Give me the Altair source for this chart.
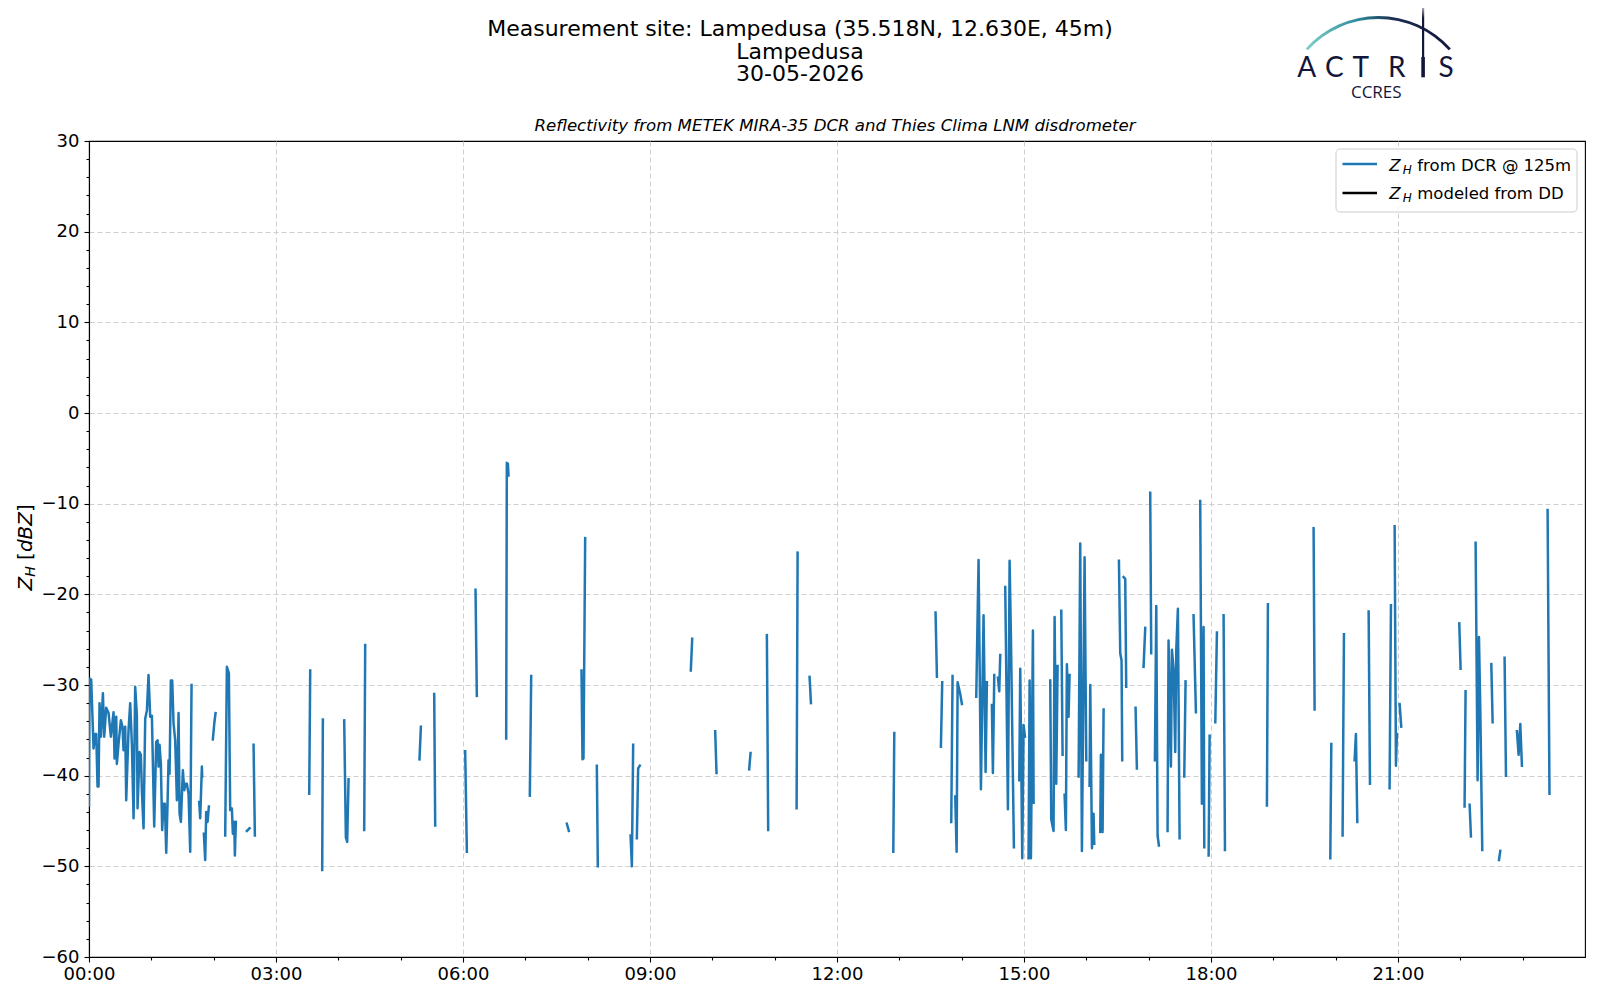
import altair as alt
import pandas as pd

# ---------------- data (time in decimal hours, reflectivity in dBZ) ----------------
night = [
    [(0.000, -43.3), (0.009, -29.3), (0.035, -29.4), (0.073, -37.0), (0.100, -35.4), (0.116, -35.4),
     (0.137, -41.2), (0.153, -41.2), (0.169, -32.0), (0.191, -35.7), (0.223, -30.9), (0.244, -35.7),
     (0.276, -32.5), (0.314, -33.1), (0.351, -35.7), (0.394, -33.0), (0.410, -38.1), (0.437, -33.5),
     (0.447, -38.7), (0.474, -36.5), (0.511, -33.9), (0.538, -34.6), (0.554, -37.2), (0.581, -34.6),
     (0.597, -42.7), (0.634, -35.0), (0.661, -32.0), (0.688, -36.5), (0.715, -44.7), (0.741, -30.2),
     (0.768, -33.3), (0.779, -43.6), (0.811, -37.4), (0.832, -37.7), (0.848, -41.6), (0.875, -45.8),
     (0.902, -33.7), (0.929, -32.8), (0.955, -28.9), (0.982, -33.5), (1.009, -33.4), (1.046, -45.6),
     (1.078, -36.3), (1.100, -36.1), (1.116, -39.0), (1.132, -36.6), (1.153, -38.7), (1.174, -46.0),
     (1.196, -43.1), (1.217, -43.1), (1.239, -48.5), (1.260, -43.1), (1.276, -38.3), (1.292, -39.8),
     (1.313, -29.5), (1.335, -29.5), (1.356, -34.2), (1.383, -36.1), (1.410, -42.7), (1.437, -33.1),
     (1.453, -44.2), (1.474, -45.1), (1.506, -39.4), (1.528, -41.6), (1.549, -40.9), (1.570, -40.9),
     (1.597, -42.0), (1.624, -48.4), (1.645, -30.0)],
    [(1.768, -42.9), (1.784, -44.7), (1.811, -39.0), (1.816, -40.1)],
    [(1.843, -46.4), (1.864, -49.3), (1.880, -44.0), (1.902, -45.1), (1.923, -43.4)],
    [(1.987, -36.0), (2.009, -34.3), (2.030, -33.1)],
    [(2.185, -46.6), (2.212, -28.0), (2.244, -28.7), (2.265, -43.8), (2.292, -43.6), (2.308, -46.4),
     (2.330, -45.1), (2.340, -48.8), (2.356, -45.1)],
    [(2.533, -46.1), (2.576, -45.8)],
    [(2.640, -36.6), (2.661, -46.6)],
    [(3.533, -42.0), (3.549, -28.4)],
    [(3.741, -50.4), (3.752, -33.8)],
    [(4.094, -33.9), (4.121, -46.8), (4.142, -47.3), (4.164, -40.4)],
    [(4.415, -46.0), (4.431, -25.6)],
    [(5.302, -38.2), (5.324, -34.6)],
    [(5.538, -31.0), (5.554, -45.5)],
]

morning = [
    [(6.035, -37.3), (6.062, -48.4)],
    [(6.201, -19.5), (6.222, -31.2)],
    [(6.693, -35.9), (6.703, -5.5), (6.720, -5.6), (6.730, -6.9)],
    [(7.072, -42.2), (7.094, -29.0)],
    [(7.666, -45.3), (7.698, -46.1)],
    [(7.901, -28.4), (7.917, -38.2), (7.933, -38.1), (7.960, -13.8)],
    [(8.147, -38.9), (8.163, -50.0)],
    [(8.688, -46.6), (8.709, -50.0), (8.730, -36.6)],
    [(8.789, -46.9), (8.810, -39.2), (8.837, -38.9)],
    [(9.655, -28.4), (9.677, -24.9)],
    [(10.046, -35.1), (10.067, -39.7)],
    [(10.591, -39.3), (10.613, -37.5)],
    [(10.875, -24.5), (10.896, -46.0)],
    [(11.352, -43.6), (11.368, -15.4)],
    [(11.560, -29.1), (11.582, -32.0)],
]

afternoon = [
    [(12.903, -48.4), (12.919, -35.3)],
    [(13.581, -22.0), (13.603, -29.1)],
    [(13.667, -36.8), (13.688, -29.7)],
    [(13.833, -45.1), (13.854, -29.0)],
    [(13.897, -42.3), (13.919, -48.4), (13.935, -29.7), (13.977, -31.0), (14.004, -32.1)],
    [(14.234, -31.3), (14.271, -16.2), (14.309, -41.5), (14.351, -22.3), (14.384, -39.6), (14.405, -29.7)],
    [(14.485, -32.2), (14.501, -39.7), (14.523, -28.9)],
    [(14.582, -29.2), (14.603, -30.7), (14.619, -26.7)],
    [(14.699, -19.2), (14.742, -43.7), (14.769, -16.3), (14.790, -24.5), (14.838, -47.9)],
    [(14.924, -40.5), (14.940, -28.2), (14.972, -49.1), (14.993, -34.4), (15.015, -35.7)],
    [(15.073, -49.1), (15.090, -29.5), (15.111, -49.1), (15.143, -24.0), (15.154, -43.0)],
    [(15.421, -29.5), (15.437, -44.8), (15.474, -46.1), (15.491, -22.5), (15.517, -40.9), (15.539, -27.9)],
    [(15.598, -21.8), (15.619, -37.7)],
    [(15.651, -42.1), (15.672, -46.0), (15.688, -27.7), (15.715, -33.5), (15.731, -28.9)],
    [(15.876, -40.1), (15.902, -14.4), (15.929, -48.3), (15.972, -15.9), (15.999, -38.3)],
    [(16.052, -41.1), (16.063, -30.0), (16.090, -48.0), (16.116, -44.2), (16.127, -47.5)],
    [(16.223, -46.2), (16.234, -37.7), (16.261, -46.2), (16.277, -32.7)],
    [(16.523, -16.3), (16.544, -26.5), (16.565, -27.3), (16.576, -38.3)],
    [(16.598, -18.1), (16.624, -18.3), (16.640, -30.2)],
    [(16.790, -32.5), (16.811, -39.2)],
    [(16.918, -28.0), (16.945, -23.7)],
    [(17.025, -8.8), (17.041, -26.5)],
    [(17.100, -38.3), (17.122, -21.3), (17.143, -46.6), (17.164, -47.7)],
    [(17.303, -46.1), (17.319, -25.1), (17.357, -39.0), (17.373, -26.1), (17.400, -28.3), (17.426, -37.4),
     (17.443, -26.1), (17.469, -21.6), (17.496, -46.9)],
    [(17.571, -40.1), (17.592, -29.6)],
    [(17.720, -22.3), (17.758, -33.0)],
    [(17.827, -9.7), (17.854, -43.1), (17.870, -29.8), (17.881, -23.6), (17.892, -47.9)],
    [(17.962, -48.8), (17.978, -35.6)],
]

evening = [
    [(18.069, -34.1), (18.095, -24.2)],
    [(18.202, -22.3), (18.224, -48.2)],
    [(18.897, -43.3), (18.913, -21.1)],
    [(19.646, -12.7), (19.662, -32.7)],
    [(19.914, -49.1), (19.930, -36.5)],
    [(20.111, -46.6), (20.133, -24.4)],
    [(20.304, -38.3), (20.325, -35.4), (20.347, -45.1)],
    [(20.529, -21.9), (20.550, -40.9)],
    [(20.865, -41.4), (20.887, -21.2)],
    [(20.946, -12.5), (20.967, -38.9), (20.983, -35.4)],
    [(21.026, -32.1), (21.052, -34.6)],
    [(21.983, -23.2), (22.004, -28.2)],
    [(22.068, -43.4), (22.084, -30.7)],
    [(22.149, -43.2), (22.170, -46.7)],
    [(22.245, -14.3), (22.277, -40.5), (22.299, -24.7), (22.320, -32.6), (22.352, -48.2)],
    [(22.497, -27.7), (22.518, -34.1)],
    [(22.620, -49.3), (22.641, -48.3)],
    [(22.710, -27.0), (22.732, -40.0)],
    [(22.908, -35.1), (22.935, -37.7), (22.962, -34.3), (22.988, -38.9)],
    [(23.400, -10.7), (23.430, -42.0)],
]

title_lines = ["Measurement site: Lampedusa (35.518N, 12.630E, 45m)", "Lampedusa", "30-05-2026"]
subtitle = "Reflectivity from METEK MIRA-35 DCR and Thies Clima LNM disdrometer"
legend_labels = ["from DCR @ 125m", "modeled from DD"]
legend_colors = ["#1f77b4", "black"]

# ---------------- build table ----------------
rows = []
sid = 0
for period in (night, morning, afternoon, evening):
    for seg in period:
        for i, (t, v) in enumerate(seg):
            rows.append({"t": t, "v": v, "seg": sid, "i": i})
        sid += 1
df = pd.DataFrame(rows)

W, H = 1496, 816
FONT = "DejaVu Sans"
NAVY = "#13163b"
TICK_FS = 18
one = pd.DataFrame({"a": [0]})

x_axis = alt.Axis(
    values=list(range(0, 24)), title="",
    labelExpr="datum.value % 3 === 0 ? (datum.value < 10 ? '0' : '') + datum.value + ':00' : ''",
    labelFont=FONT, labelFontSize=TICK_FS, labelColor="black", labelPadding=3,
    labelFlush=False, labelOverlap=False,
    tickColor="black", tickWidth=1.1,
    tickSize={"condition": {"test": "datum.value % 3 === 0", "value": 5}, "value": 3},
    domainColor="black", domainWidth=1.1,
    grid=True, gridColor="#cfcfcf", gridDash=[5, 3], gridWidth=1,
    gridOpacity={"condition": {"test": "datum.value % 3 === 0 && datum.value > 0", "value": 1}, "value": 0},
)
y_axis = alt.Axis(
    values=list(range(-60, 31, 2)), title="",
    labelExpr="datum.value % 10 === 0 ? (datum.value < 0 ? '\u2212' + abs(datum.value) : '' + datum.value) : ''",
    labelFont=FONT, labelFontSize=TICK_FS, labelColor="black", labelPadding=5,
    labelFlush=False, labelOverlap=False,
    tickColor="black", tickWidth=1.1,
    tickSize={"condition": {"test": "datum.value % 10 === 0", "value": 5}, "value": 3},
    domainColor="black", domainWidth=1.1,
    grid=True, gridColor="#cfcfcf", gridDash=[5, 3], gridWidth=1,
    gridOpacity={"condition": {"test": "datum.value % 10 === 0 && datum.value > -60 && datum.value < 30",
                               "value": 1}, "value": 0},
)

line = alt.Chart(df).mark_line(
    color="#1f77b4", strokeWidth=2.5, strokeJoin="round", strokeCap="square", clip=True
).encode(
    x=alt.X("t:Q", scale=alt.Scale(domain=[0, 24], nice=False, zero=False), axis=x_axis),
    y=alt.Y("v:Q", scale=alt.Scale(domain=[-60, 30], nice=False, zero=False), axis=y_axis),
    detail="seg:N",
    order="i:Q",
)


def txt(s, x, y, size, style="normal", align="center", angle=0, color="black",
        font=FONT, weight="normal", baseline="alphabetic"):
    return alt.Chart(one).mark_text(
        text=s, font=font, fontSize=size, fontStyle=style, align=align, angle=angle,
        color=color, fontWeight=weight, baseline=baseline
    ).encode(x=alt.value(x), y=alt.value(y))


layers = [line]

# titles
for s, yy in zip(title_lines, [-105, -82, -60]):
    layers.append(txt(s, 711, yy, 22))
layers.append(txt(subtitle, 746, -10, 16.6, style="italic"))

# y-axis title: Z_H [dBZ]
layers.append(txt("Z", -57.5, 449.5, 20, style="italic", align="left", angle=270))
layers.append(txt("H", -54, 435.8, 14, style="italic", align="left", angle=270))
layers.append(txt("[", -57.5, 418.9, 20, align="left", angle=270))
layers.append(txt("dBZ", -57.5, 411.1, 20, style="italic", align="left", angle=270))
layers.append(txt("]", -57.5, 371.0, 20, align="left", angle=270))

# legend
layers.append(alt.Chart(one).mark_rect(
    fill="white", fillOpacity=0.8, stroke="#cccccc", strokeWidth=1, cornerRadius=4
).encode(x=alt.value(1247), x2=alt.value(1488), y=alt.value(8), y2=alt.value(71)))
for k, (lab, col) in enumerate(zip(legend_labels, legend_colors)):
    yl = 23 + k * 29
    yb = 29.5 + k * 28.5
    layers.append(alt.Chart(one).mark_rule(color=col, strokeWidth=2.5).encode(
        x=alt.value(1253.5), x2=alt.value(1288), y=alt.value(yl)))
    layers.append(txt("Z", 1300.3, yb, 16.5, style="italic", align="left"))
    layers.append(txt("H", 1313.8, yb + 3, 12, style="italic", align="left"))
    layers.append(txt(lab, 1328.3, yb, 16.5, align="left"))

# logo (ACTRIS CCRES)
arc_grad = alt.Gradient(
    gradient="linear", x1=0, y1=0, x2=1, y2=0,
    stops=[alt.GradientStop(color="#7fd0c8", offset=0),
           alt.GradientStop(color="#2d8e9c", offset=0.35),
           alt.GradientStop(color="#1b2f52", offset=0.6),
           alt.GradientStop(color=NAVY, offset=1)],
)
layers.append(alt.Chart(one).mark_arc(
    theta=5.443, theta2=7.123, radius=97.5, radius2=94.6, fill=arc_grad
).encode(x=alt.value(1289.3), y=alt.value(-27.5)))
bar_grad = alt.Gradient(
    gradient="linear", x1=0, y1=0, x2=0, y2=1,
    stops=[alt.GradientStop(color="white", offset=0),
           alt.GradientStop(color=NAVY, offset=0.3),
           alt.GradientStop(color=NAVY, offset=1)],
)
layers.append(alt.Chart(one).mark_rect(fill=bar_grad).encode(
    x=alt.value(1333), x2=alt.value(1335.2), y=alt.value(-139.5), y2=alt.value(-84)))
layers.append(alt.Chart(one).mark_rect(fill=NAVY).encode(
    x=alt.value(1332.3), x2=alt.value(1335.9), y=alt.value(-84), y2=alt.value(-63.7)))
for ch, cx in zip(["A", "C", "T", "R", "S"], [1217.7, 1245.3, 1271.7, 1307.7, 1357.0]):
    layers.append(txt(ch, cx, -63.7, 28, color=NAVY, font="Lato"))
layers.append(txt("CCRES", 1287.3, -42.7, 17, color=NAVY, font="Open Sans"))

chart = alt.layer(*layers).properties(
    width=W, height=H,
    autosize=alt.AutoSizeParams(type="none"),
    padding={"left": 81, "top": 133, "right": 4, "bottom": 28},
).configure_view(stroke="black", strokeWidth=1.1)

chart.save("out.html", embed_options={"renderer": "svg", "actions": False})
